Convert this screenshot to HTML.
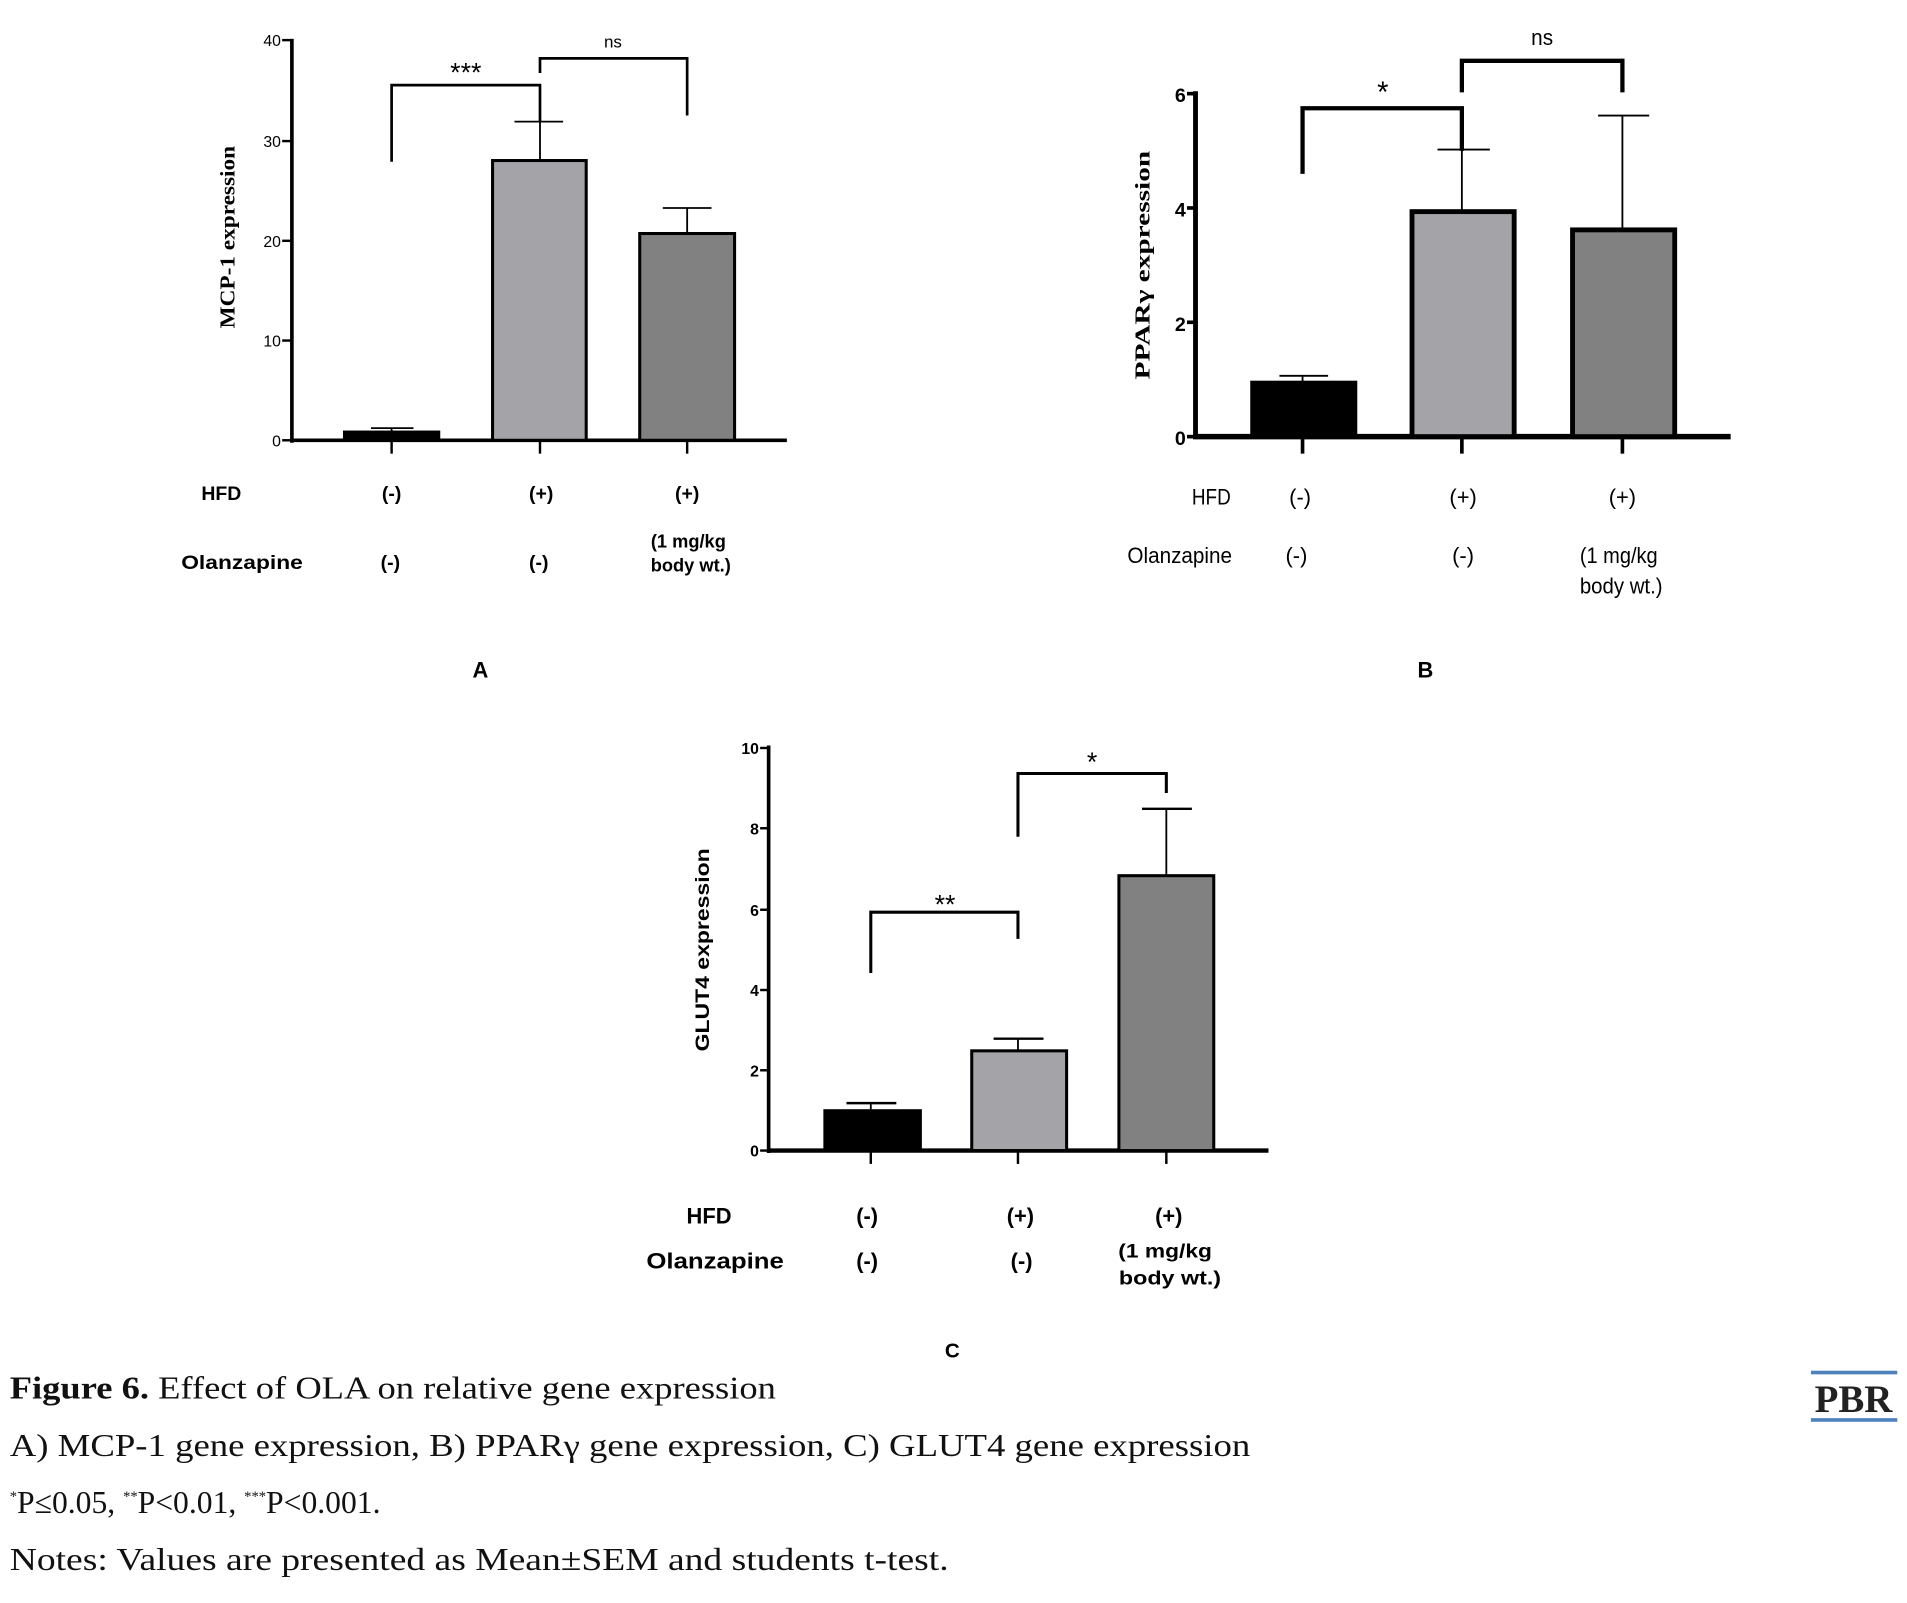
<!DOCTYPE html>
<html><head><meta charset="utf-8"><style>
html,body{margin:0;padding:0;background:#fff;}
svg{display:block;}
.s{font-family:"Liberation Sans",sans-serif;}
.sb{font-family:"Liberation Sans",sans-serif;font-weight:bold;}
.r{font-family:"Liberation Serif",serif;}
</style></head><body>
<svg width="1907" height="1603" viewBox="0 0 1568 1318" preserveAspectRatio="none" xmlns="http://www.w3.org/2000/svg">
<rect width="1568" height="1318" fill="#fff"/>
<!-- Chart A -->
<g stroke="#000" fill="none">
<line x1="240" y1="32" x2="240" y2="364" stroke-width="3"/>
<line x1="239" y1="362" x2="647" y2="362" stroke-width="3"/>
<g stroke-width="2">
<line x1="232" y1="33" x2="240" y2="33"/><line x1="232" y1="116" x2="240" y2="116"/>
<line x1="232" y1="198" x2="240" y2="198"/><line x1="232" y1="280" x2="240" y2="280"/>
<line x1="232" y1="362" x2="240" y2="362"/>
<line x1="322" y1="362" x2="322" y2="373"/><line x1="444" y1="362" x2="444" y2="373"/><line x1="565" y1="362" x2="565" y2="373"/>
</g>
<rect x="283" y="355" width="78" height="7" fill="#000" stroke-width="2"/>
<line x1="322" y1="355" x2="322" y2="352" stroke-width="1.5"/><line x1="305" y1="352" x2="340" y2="352" stroke-width="1.5"/>
<rect x="405" y="132" width="77" height="230" fill="#a3a3a8" stroke-width="2.5"/>
<line x1="444" y1="132" x2="444" y2="100" stroke-width="1.5"/><line x1="423" y1="100" x2="463" y2="100" stroke-width="1.5"/>
<rect x="526" y="192" width="78" height="170" fill="#818181" stroke-width="2.5"/>
<line x1="565" y1="192" x2="565" y2="171" stroke-width="1.5"/><line x1="545" y1="171" x2="585" y2="171" stroke-width="1.5"/>
<polyline points="322,133 322,70 444,70 444,100" stroke-width="2.2"/>
<polyline points="444,60 444,48 565,48 565,95" stroke-width="2.2"/>
</g>
<g class="s" font-size="13" text-anchor="end">
<text x="231" y="38">40</text><text x="231" y="121">30</text><text x="231" y="203">20</text><text x="231" y="285">10</text><text x="231" y="367">0</text>
</g>
<text class="s" x="383" y="67" font-size="22" text-anchor="middle">***</text>
<text class="s" x="504" y="39" font-size="14" text-anchor="middle">ns</text>
<text class="r" font-weight="bold" font-size="17" text-anchor="middle" textLength="150" lengthAdjust="spacingAndGlyphs" transform="translate(193,195) rotate(-90)">MCP-1 expression</text>
<g class="sb" font-size="16" text-anchor="middle">
<text x="182" y="411">HFD</text><text x="322" y="411">(-)</text><text x="445" y="411">(+)</text><text x="565" y="411">(+)</text>
<text x="199" y="468" textLength="100" lengthAdjust="spacingAndGlyphs">Olanzapine</text><text x="321" y="468">(-)</text><text x="443" y="468">(-)</text>
<text x="566" y="450" font-size="15">(1 mg/kg</text><text x="568" y="470" font-size="15">body wt.)</text>
<text x="395" y="557" font-size="18">A</text>
</g>
<!-- Chart B -->
<g stroke="#000" fill="none">
<line x1="983" y1="75" x2="983" y2="361" stroke-width="4"/>
<line x1="981" y1="359" x2="1423" y2="359" stroke-width="4.5"/>
<g stroke-width="3">
<line x1="976" y1="77" x2="983" y2="77"/><line x1="976" y1="171" x2="983" y2="171"/>
<line x1="976" y1="265" x2="983" y2="265"/><line x1="976" y1="359" x2="983" y2="359"/>
<line x1="1071" y1="359" x2="1071" y2="373"/><line x1="1202" y1="359" x2="1202" y2="373"/><line x1="1334" y1="359" x2="1334" y2="373"/>
</g>
<rect x="1029" y="314" width="86" height="45" fill="#000" stroke-width="2"/>
<line x1="1071" y1="314" x2="1071" y2="309" stroke-width="1.5"/><line x1="1052" y1="309" x2="1092" y2="309" stroke-width="1.5"/>
<rect x="1161" y="174" width="84" height="185" fill="#a3a3a8" stroke-width="4"/>
<line x1="1202" y1="174" x2="1202" y2="123" stroke-width="1.5"/><line x1="1182" y1="123" x2="1225" y2="123" stroke-width="1.5"/>
<rect x="1293" y="189" width="84" height="170" fill="#818181" stroke-width="4"/>
<line x1="1334" y1="189" x2="1334" y2="95" stroke-width="1.5"/><line x1="1314" y1="95" x2="1356" y2="95" stroke-width="1.5"/>
<polyline points="1071,143 1071,89 1202,89 1202,124" stroke-width="3.5"/>
<polyline points="1202,76 1202,50 1334,50 1334,76" stroke-width="3.5"/>
</g>
<g class="sb" font-size="16" text-anchor="end">
<text x="975" y="84" textLength="9" lengthAdjust="spacingAndGlyphs">6</text><text x="975" y="178" textLength="9" lengthAdjust="spacingAndGlyphs">4</text><text x="975" y="272" textLength="9" lengthAdjust="spacingAndGlyphs">2</text><text x="975" y="366" textLength="9" lengthAdjust="spacingAndGlyphs">0</text>
</g>
<text class="s" x="1137" y="84" font-size="24" text-anchor="middle">*</text>
<text class="s" x="1268" y="37" font-size="18" text-anchor="middle" textLength="18" lengthAdjust="spacingAndGlyphs">ns</text>
<text class="r" font-weight="bold" font-size="17" text-anchor="middle" textLength="188" lengthAdjust="spacingAndGlyphs" transform="translate(945,218) rotate(-90)">PPARγ expression</text>
<g class="s" font-size="18" text-anchor="middle">
<text x="996" y="415" textLength="32" lengthAdjust="spacingAndGlyphs">HFD</text><text x="1069" y="415">(-)</text><text x="1203" y="415">(+)</text><text x="1334" y="415">(+)</text>
<text x="970" y="463" textLength="86" lengthAdjust="spacingAndGlyphs">Olanzapine</text><text x="1066" y="463">(-)</text><text x="1203" y="463">(-)</text>
<text x="1331" y="463" textLength="64" lengthAdjust="spacingAndGlyphs">(1 mg/kg</text><text x="1333" y="488" textLength="68" lengthAdjust="spacingAndGlyphs">body wt.)</text>
</g>
<text class="sb" x="1172" y="557" font-size="18" text-anchor="middle">B</text>
<!-- Chart C -->
<g stroke="#000" fill="none">
<line x1="632" y1="613" x2="632" y2="948" stroke-width="3"/>
<line x1="631" y1="946" x2="1043" y2="946" stroke-width="3.5"/>
<g stroke-width="2">
<line x1="625" y1="615" x2="632" y2="615"/><line x1="625" y1="681" x2="632" y2="681"/><line x1="625" y1="748" x2="632" y2="748"/>
<line x1="625" y1="814" x2="632" y2="814"/><line x1="625" y1="880" x2="632" y2="880"/><line x1="625" y1="946" x2="632" y2="946"/>
<line x1="716" y1="946" x2="716" y2="957"/><line x1="837" y1="946" x2="837" y2="957"/><line x1="959" y1="946" x2="959" y2="957"/>
</g>
<rect x="678" y="913" width="79" height="33" fill="#000" stroke-width="2"/>
<line x1="716" y1="913" x2="716" y2="907" stroke-width="1.5"/><line x1="696" y1="907" x2="737" y2="907" stroke-width="2"/>
<rect x="799" y="864" width="78" height="82" fill="#a3a3a8" stroke-width="2.5"/>
<line x1="837" y1="864" x2="837" y2="854" stroke-width="1.5"/><line x1="817" y1="854" x2="858" y2="854" stroke-width="2"/>
<rect x="920" y="720" width="78" height="226" fill="#818181" stroke-width="2.5"/>
<line x1="959" y1="720" x2="959" y2="665" stroke-width="1.5"/><line x1="939" y1="665" x2="980" y2="665" stroke-width="2"/>
<polyline points="716,800 716,750 837,750 837,772" stroke-width="2.5"/>
<polyline points="837,688 837,636 959,636 959,652" stroke-width="2.5"/>
</g>
<g class="sb" font-size="13" text-anchor="end">
<text x="624" y="620">10</text><text x="624" y="686">8</text><text x="624" y="753">6</text><text x="624" y="819">4</text><text x="624" y="885">2</text><text x="624" y="951">0</text>
</g>
<text class="s" x="777" y="751" font-size="22" text-anchor="middle">**</text>
<text class="s" x="898" y="634" font-size="22" text-anchor="middle">*</text>
<text class="sb" font-size="16" text-anchor="middle" textLength="167" lengthAdjust="spacingAndGlyphs" transform="translate(583,781) rotate(-90)">GLUT4 expression</text>
<g class="sb" font-size="18" text-anchor="middle">
<text x="583" y="1006">HFD</text><text x="713" y="1006">(-)</text><text x="839" y="1006">(+)</text><text x="961" y="1006">(+)</text>
<text x="588" y="1043" textLength="113" lengthAdjust="spacingAndGlyphs">Olanzapine</text><text x="713" y="1043">(-)</text><text x="840" y="1043">(-)</text>
<text x="958" y="1034" font-size="16" textLength="77" lengthAdjust="spacingAndGlyphs">(1 mg/kg</text><text x="962" y="1056" font-size="16" textLength="84" lengthAdjust="spacingAndGlyphs">body wt.)</text>
<text x="783" y="1116" font-size="17">C</text>
</g>
<!-- Caption -->
<g class="r" font-size="26" fill="#111">
<text x="8" y="1150" textLength="630" lengthAdjust="spacingAndGlyphs"><tspan font-weight="bold">Figure 6.</tspan> Effect of OLA on relative gene expression</text>
<text x="8" y="1197" textLength="1020" lengthAdjust="spacingAndGlyphs">A) MCP-1 gene expression, B) PPARγ gene expression, C) GLUT4 gene expression</text>
<text x="8" y="1244"><tspan font-size="12" dy="-10">*</tspan><tspan dy="10">P≤0.05, </tspan><tspan font-size="12" dy="-10">**</tspan><tspan dy="10">P&lt;0.01, </tspan><tspan font-size="12" dy="-10">***</tspan><tspan dy="10">P&lt;0.001.</tspan></text>
<text x="8" y="1291" textLength="772" lengthAdjust="spacingAndGlyphs">Notes: Values are presented as Mean±SEM and students t-test.</text>
</g>
<rect x="1489" y="1127" width="71" height="3" fill="#4f81bd"/>
<rect x="1489" y="1166" width="71" height="3" fill="#4f81bd"/>
<text class="r" x="1524" y="1161" font-size="32" font-weight="bold" text-anchor="middle" fill="#222">PBR</text>
</svg>
</body></html>
